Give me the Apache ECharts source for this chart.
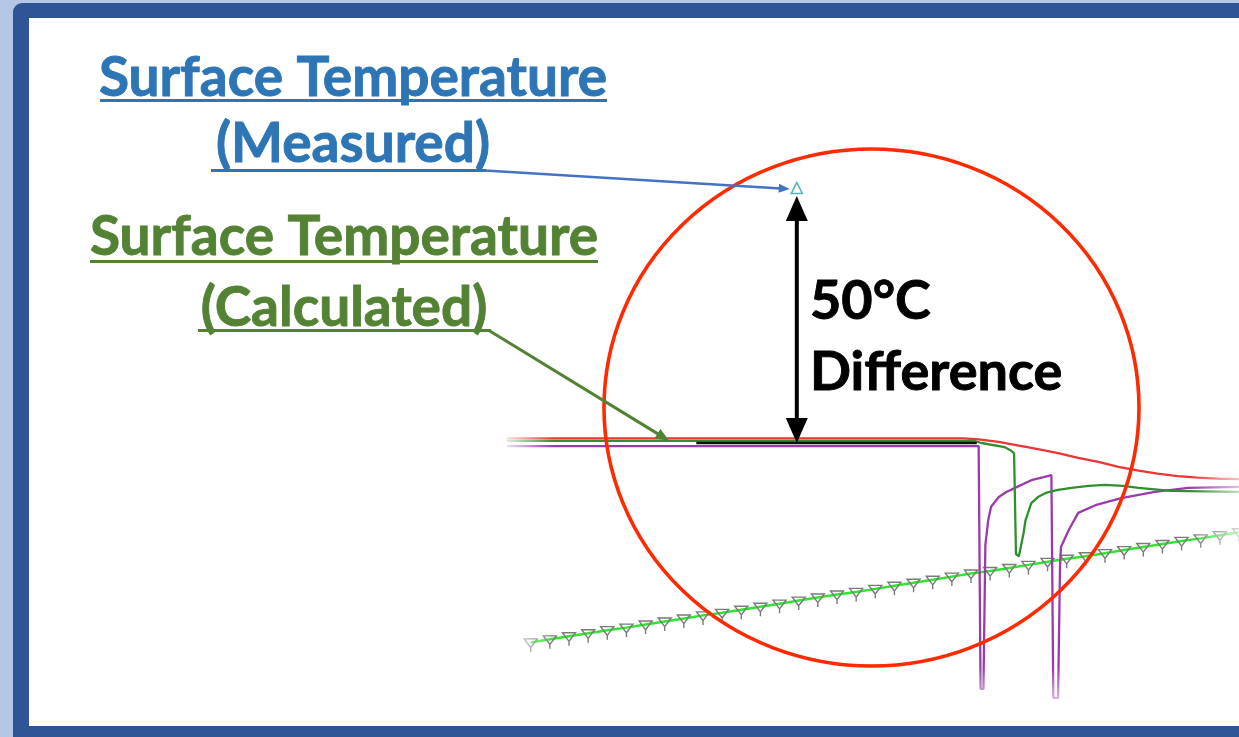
<!DOCTYPE html>
<html>
<head>
<meta charset="utf-8">
<script src="https://cdn.jsdelivr.net/npm/echarts@6/dist/echarts.min.js"></script>
<style>
  html, body { margin: 0; padding: 0; width: 1239px; height: 737px; overflow: hidden; background: #b4c7e7; }
  #frame { position: absolute; left: 13px; top: 3px; width: 1300px; height: 800px; background: #2f5597; border-radius: 9px; }
  #inner { position: absolute; left: 29px; top: 18px; width: 1300px; height: 708px; background: #ffffff; }
  #chart { position: absolute; left: 0; top: 0; width: 1239px; height: 737px; }
</style>
</head>
<body>
<div id="frame"></div>
<div id="inner"></div>
<div id="chart"></div>
<script>
// Time (min) vs surface temperature (°C)

// Upper trace (red)
const redCurve = [
  [0.5, 100.9], [48.2, 100.9], [49.8, 100.7], [51.9, 100.2], [54.0, 99.5], [56.0, 98.8],
  [58.1, 98.0], [60.2, 97.1], [62.3, 96.3], [64.4, 95.3], [66.5, 94.6], [68.5, 94.0],
  [70.6, 93.5], [72.7, 93.2], [74.8, 93.0], [77, 92.9]
];

// Calculated surface temperature (green)
const calcCurve = [
  [0.5, 100.4], [49.3, 100.4], [50.1, 100.0], [52.5, 99.2], [53.1, 98.6], [53.5, 98.0],
  [53.7, 78.2], [54.0, 77.8], [54.2, 79.6], [54.5, 82.4], [54.7, 84.9], [55.3, 88.2],
  [56.0, 89.4], [56.8, 90.2], [58.1, 90.8], [59.5, 91.2], [61.3, 91.6], [63.0, 91.8],
  [64.9, 91.6], [66.5, 91.2], [69.9, 90.6], [77, 90.4]
];

// Purple trace with the two quench dips
const purpleCurve = [
  [0.5, 99.4], [49.8, 99.4], [50.0, 51.8], [50.3, 51.8], [50.5, 80.0], [50.8, 84.9],
  [51.1, 87.5], [51.9, 89.4], [52.7, 90.4], [53.6, 91.2], [55.3, 92.7], [56.6, 93.3],
  [57.4, 93.7], [57.6, 50.0], [58.1, 50.0], [58.3, 76.0], [58.4, 79.6], [59.2, 82.9],
  [60.2, 86.3], [62.0, 87.8], [64.7, 89.2], [68.2, 90.4], [71.7, 91.2], [77, 91.4]
];

// Calculated plateau (black)
const plateauCurve = [[20.3, 100.0], [49.6, 100.0]];

// Logged sensor readings (light green, one marker per reading)
const sensorTimes = [3, 5, 7, 9, 11, 13, 15, 17, 19, 21, 23, 25, 27, 29, 31, 33, 35, 37, 39,
  41, 43, 45, 47, 49, 51, 53, 55, 57, 59, 61, 63, 65, 67, 69, 71, 73, 75, 77];
const sensorTemps = [60.9, 61.5, 62.1, 62.7, 63.3, 63.8, 64.4, 65.0, 65.6, 66.2, 66.7, 67.3,
  67.9, 68.5, 69.1, 69.7, 70.3, 70.8, 71.4, 72.0, 72.6, 73.2, 73.8, 74.4, 74.9, 75.5, 76.1,
  76.7, 77.3, 77.8, 78.4, 79.0, 79.6, 80.2, 80.8, 81.3, 81.9, 82.5];

// Measured surface temperature
const measuredPoint = [30.8, 150];
const calcAtMeasured = plateauCurve[0][1];
const difference = measuredPoint[1] - calcAtMeasured;

// Point on the calculated curve that the label points to
const calcPointer = [17.5, 100.4];

const chart = echarts.init(document.getElementById('chart'), null, { renderer: 'canvas' });

const lineBase = { type: 'line', showSymbol: false, smooth: false, silent: true, animation: false };

chart.setOption({
  backgroundColor: 'transparent',
  animation: false,
  grid: { left: 502, top: 86, width: 739.2, height: 612, containLabel: false },
  xAxis: { type: 'value', min: 0, max: 77, show: false },
  yAxis: { type: 'value', min: 50, max: 170, show: false },
  series: [
    Object.assign({}, lineBase, {
      name: 'Sensor', data: sensorTimes.map((t, i) => [t, sensorTemps[i]]),
      showSymbol: true, showAllSymbol: true,
      symbol: 'path://M0,0 L12,0 L6,8 Z M6,8 L6,12', symbolSize: [13, 13], symbolOffset: [0, 3],
      itemStyle: { color: 'rgba(0,0,0,0)', borderColor: '#7a7a7a', borderWidth: 1.4 },
      lineStyle: { color: '#2ee62e', width: 2.5 }, z: 2
    }),
    Object.assign({}, lineBase, { name: 'Purple', data: purpleCurve, lineStyle: { color: '#9b3bab', width: 2.3 }, z: 3 }),
    Object.assign({}, lineBase, { name: 'Calculated', data: calcCurve, lineStyle: { color: '#2f8f2f', width: 2.3 }, z: 4 }),
    Object.assign({}, lineBase, { name: 'Plateau', data: plateauCurve, lineStyle: { color: '#111111', width: 2.5 }, z: 5 }),
    Object.assign({}, lineBase, { name: 'Red', data: redCurve, lineStyle: { color: '#ee3535', width: 2.3 }, z: 6 }),
    {
      type: 'scatter', name: 'Measured', data: [measuredPoint], silent: true,
      symbol: 'triangle', symbolSize: 11,
      itemStyle: { color: '#ffffff', borderColor: '#2a9f9f', borderWidth: 1.6 }, z: 70
    }
  ]
});

const px = p => chart.convertToPixel({ gridIndex: 0 }, p);

function arrow(x1, y1, x2, y2, w, headL, headW, color, z, doubleHead) {
  const dx = x2 - x1, dy = y2 - y1, len = Math.hypot(dx, dy);
  const ux = dx / len, uy = dy / len, nx = -uy, ny = ux;
  const head = (tx, ty, sx, sy) => ({
    type: 'polygon', z: z, silent: true,
    shape: { points: [[tx, ty],
      [tx - sx * headL + nx * headW / 2, ty - sy * headL + ny * headW / 2],
      [tx - sx * headL - nx * headW / 2, ty - sy * headL - ny * headW / 2]] },
    style: { fill: color }
  });
  const sx1 = doubleHead ? x1 + ux * headL * 0.8 : x1, sy1 = doubleHead ? y1 + uy * headL * 0.8 : y1;
  const els = [
    { type: 'line', z: z, silent: true,
      shape: { x1: sx1, y1: sy1, x2: x2 - ux * headL * 0.8, y2: y2 - uy * headL * 0.8 },
      style: { stroke: color, lineWidth: w } },
    head(x2, y2, ux, uy)
  ];
  if (doubleHead) els.push(head(x1, y1, -ux, -uy));
  return els;
}

const m = px(measuredPoint);
const c = px([measuredPoint[0], calcAtMeasured]);
const g = px(calcPointer);

const fadeH = (x, y, w, h, a0, a1) => ({
  type: 'rect', z: 40, silent: true, shape: { x: x, y: y, width: w, height: h },
  style: { fill: new echarts.graphic.LinearGradient(0, 0, 1, 0, [
    { offset: 0, color: 'rgba(255,255,255,' + a0 + ')' }, { offset: 1, color: 'rgba(255,255,255,' + a1 + ')' }]) }
});
const fadeV = (x, y, w, h, a0, a1) => ({
  type: 'rect', z: 40, silent: true, shape: { x: x, y: y, width: w, height: h },
  style: { fill: new echarts.graphic.LinearGradient(0, 0, 0, 1, [
    { offset: 0, color: 'rgba(255,255,255,' + a0 + ')' }, { offset: 1, color: 'rgba(255,255,255,' + a1 + ')' }]) }
});

const blue = '#2e75b6', green = '#548235';
const titleSize = 55, noteSize = 54;
// text is placed by its top edge; the baseline sits ~0.79 em below it
const text = (str, x, baseline, size, fill, align) => ({
  type: 'text', z: 80, silent: true, x: x, y: baseline - Math.round(size * 0.79),
  style: { text: str, font: 'bold ' + size + 'px Lato', fill: fill, stroke: fill, lineWidth: 0.9,
    align: align, textAlign: align }
});
const bar = (x1, x2, y, h, fill) => ({
  type: 'rect', z: 80, silent: true, shape: { x: x1, y: y, width: x2 - x1, height: h }, style: { fill: fill }
});

const elements = [
  fadeH(498, 425, 56, 290, 1, 0),
  fadeH(1190, 425, 49, 140, 0, 0.7),
  fadeV(955, 668, 130, 50, 0, 1),
  {
    type: 'circle', z: 60, silent: true, x: 871.5, y: 407.5, scaleY: 258.5 / 267.5,
    shape: { cx: 0, cy: 0, r: 267.5 },
    style: { fill: 'none', stroke: '#ff2a00', lineWidth: 3.6, strokeNoScale: true }
  },
  text('Surface Temperature', 353, 94, titleSize, blue, 'center'),
  bar(100, 607, 99, 3, blue),
  text('(Measured)', 353, 160, titleSize, blue, 'center'),
  bar(211, 486, 169, 3, blue),
  text('Surface Temperature', 344, 253, titleSize, green, 'center'),
  bar(90, 598, 260, 3, green),
  text('(Calculated)', 344, 324, titleSize, green, 'center'),
  bar(198, 491, 329, 3, green),
  text(difference + '°C', 810, 318, noteSize, '#000000', 'left'),
  text('Difference', 810, 389, noteSize, '#000000', 'left')
];
elements.push(...arrow(485, 170.5, m[0] - 7, m[1] + 1, 2.5, 11, 9, '#4472c4', 75, false));
elements.push(...arrow(489, 330.5, g[0], g[1], 3, 14, 11, green, 75, false));
elements.push(...arrow(c[0], m[1] + 8, c[0], c[1], 4, 25, 22, '#000000', 75, true));

chart.setOption({ graphic: { elements: elements } });
</script>
</body>
</html>
